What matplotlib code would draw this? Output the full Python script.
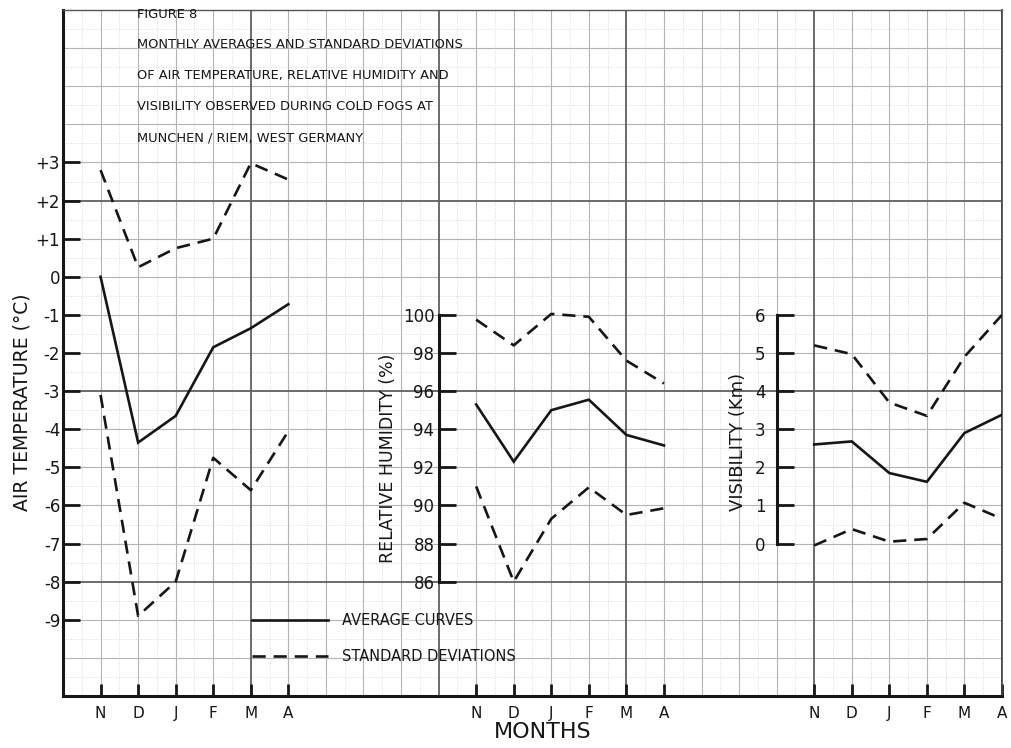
import numpy as np
import matplotlib
matplotlib.use("Agg")
import matplotlib.pyplot as plt
from matplotlib.lines import Line2D

W, H = 1012, 748
DPI = 100
INK = "#161616"

MONTHS = ["N", "D", "J", "F", "M", "A"]

# air temperature (deg C)
temp_mean = [0.0, -4.35, -3.65, -1.85, -1.35, -0.72]
temp_upper = [2.8, 0.25, 0.75, 1.0, 2.98, 2.55]
temp_lower = [-3.1, -8.9, -8.0, -4.75, -5.6, -4.05]

# relative humidity (%)
rh_mean = [95.3, 92.3, 95.0, 95.55, 93.7, 93.15]
rh_upper = [99.75, 98.4, 100.05, 99.9, 97.6, 96.4]
rh_lower = [91.0, 86.0, 89.3, 90.95, 89.5, 89.85]

# visibility (km)
vis_mean = [2.6, 2.68, 1.85, 1.62, 2.9, 3.38]
vis_upper = [5.2, 4.97, 3.7, 3.35, 4.9, 6.0]
vis_lower = [-0.05, 0.38, 0.05, 0.12, 1.07, 0.65]

temp_ticks = [3, 2, 1, 0, -1, -2, -3, -4, -5, -6, -7, -8, -9]
rh_ticks = [100, 98, 96, 94, 92, 90, 88, 86]
vis_ticks = [6, 5, 4, 3, 2, 1, 0]

# where each panel starts on the shared month axis (one paper square = 1)
OFFSETS = [0, 10, 19]


def px(x, y):
    return x / W, 1 - y / H


fig = plt.figure(figsize=(W / DPI, H / DPI), dpi=DPI)
rect = [63 / W, (H - 696) / H, 939 / W, 686 / H]
ax = fig.add_axes(rect)
ax.set_xlim(-1, 24)
ax.set_ylim(-11, 7)

# graph paper
xs = np.arange(-1, 24.01, 0.5)
ys = np.arange(-11, 7.01, 0.5)
for x in xs:
    if x % 1:
        ax.axvline(x, color="#cfcfcf", lw=0.6, ls=(0, (1, 2)), zorder=0)
    elif (x + 1) % 5 == 0:
        ax.axvline(x, color="#606060", lw=1.3, zorder=0.2)
    else:
        ax.axvline(x, color="#b4b4b4", lw=0.8, zorder=0.1)
for y in ys:
    if y % 1:
        ax.axhline(y, color="#cfcfcf", lw=0.6, ls=(0, (1, 2)), zorder=0)
    elif (y - 2) % 5 == 0:
        ax.axhline(y, color="#606060", lw=1.3, zorder=0.2)
    else:
        ax.axhline(y, color="#b4b4b4", lw=0.8, zorder=0.1)

for side in ("left", "bottom"):
    ax.spines[side].set_color(INK)
    ax.spines[side].set_linewidth(2.2)
ax.spines["top"].set_color("#555555")
ax.spines["top"].set_linewidth(1.0)
ax.spines["right"].set_color("#444444")
ax.spines["right"].set_linewidth(1.2)

xpos = [off + i for off in OFFSETS for i in range(len(MONTHS))]
ax.set_xticks(xpos)
ax.set_xticklabels(MONTHS * len(OFFSETS))
ax.tick_params(axis="x", direction="in", length=9, width=2, color=INK,
               labelsize=11, labelcolor=INK, pad=7)
ax.set_yticks(temp_ticks)
ax.set_yticklabels([f"{v:+d}" if v > 0 else str(v) for v in temp_ticks])
ax.tick_params(axis="y", direction="in", length=12, width=2, color=INK,
               labelsize=12, labelcolor=INK, pad=2)

line_kw = dict(color=INK, lw=1.9, solid_joinstyle="miter", zorder=5)
dash_kw = dict(color=INK, lw=1.9, ls=(0, (5, 3)), zorder=5)

tx = [OFFSETS[0] + i for i in range(len(MONTHS))]
ax.plot(tx, temp_mean, **line_kw)
ax.plot(tx, temp_upper, **dash_kw)
ax.plot(tx, temp_lower, **dash_kw)


def side_axis(ylim, ticks, bounds, spine_x, pad):
    a = fig.add_axes(rect, facecolor="none")
    a.set_xlim(-1, 24)
    a.set_ylim(*ylim)
    for s in ("top", "right", "bottom"):
        a.spines[s].set_visible(False)
    a.spines["left"].set_position(("data", spine_x))
    a.spines["left"].set_bounds(*bounds)
    a.spines["left"].set_color(INK)
    a.spines["left"].set_linewidth(2.2)
    a.xaxis.set_visible(False)
    a.set_yticks(ticks)
    a.tick_params(axis="y", direction="in", length=12, width=2, color=INK,
                  labelsize=12, labelcolor=INK, pad=pad)
    return a


# humidity: 100 % sits on the -1 deg line, 2 % per square
rh_ax = side_axis((80, 116), rh_ticks, (86, 100), OFFSETS[1] - 1, 3)
hx = [OFFSETS[1] + i for i in range(len(MONTHS))]
rh_ax.plot(hx, rh_mean, **line_kw)
rh_ax.plot(hx, rh_upper, **dash_kw)
rh_ax.plot(hx, rh_lower, **dash_kw)

# visibility: 0 km sits on the -7 deg line, 1 km per square
vis_ax = side_axis((-4, 14), vis_ticks, (0, 6), OFFSETS[2] - 1, 8)
vx = [OFFSETS[2] + i for i in range(len(MONTHS))]
vis_ax.plot(vx, vis_mean, **line_kw)
vis_ax.plot(vx, vis_upper, **dash_kw)
vis_ax.plot(vx, vis_lower, **dash_kw)

handles = [Line2D([], [], **{k: v for k, v in line_kw.items() if k != "zorder"}),
           Line2D([], [], **{k: v for k, v in dash_kw.items() if k != "zorder"})]
leg = ax.legend(handles, ["AVERAGE CURVES", "STANDARD DEVIATIONS"],
                loc="center left", bbox_to_anchor=(4.03, -9.5),
                bbox_transform=ax.transData, frameon=False,
                borderpad=0, borderaxespad=0, handlelength=5.2,
                handletextpad=1.0, labelspacing=1.45,
                prop=dict(size=10.5))
for t in leg.get_texts():
    t.set_color(INK)
leg.set_zorder(6)

# heading
title_lines = [
    "FIGURE 8",
    "MONTHLY AVERAGES AND STANDARD DEVIATIONS",
    "OF AIR TEMPERATURE, RELATIVE HUMIDITY AND",
    "VISIBILITY OBSERVED DURING COLD FOGS AT",
    "MUNCHEN / RIEM, WEST GERMANY",
]
for i, line in enumerate(title_lines):
    fig.text(*px(137, 14 + 31 * i), line, ha="left", va="center",
             fontsize=9.4, color=INK)

fig.text(*px(22, 402), "AIR TEMPERATURE (°C)", rotation=90,
         ha="center", va="center", fontsize=13.5, color=INK)
fig.text(*px(388, 458), "RELATIVE HUMIDITY (%)", rotation=90,
         ha="center", va="center", fontsize=12.5, color=INK)
fig.text(*px(738, 442), "VISIBILITY (Km)", rotation=90,
         ha="center", va="center", fontsize=13, color=INK)
fig.text(*px(543, 732), "MONTHS", ha="center", va="center",
         fontsize=16, color=INK)

fig.savefig("out.png", dpi=DPI, facecolor="white")
